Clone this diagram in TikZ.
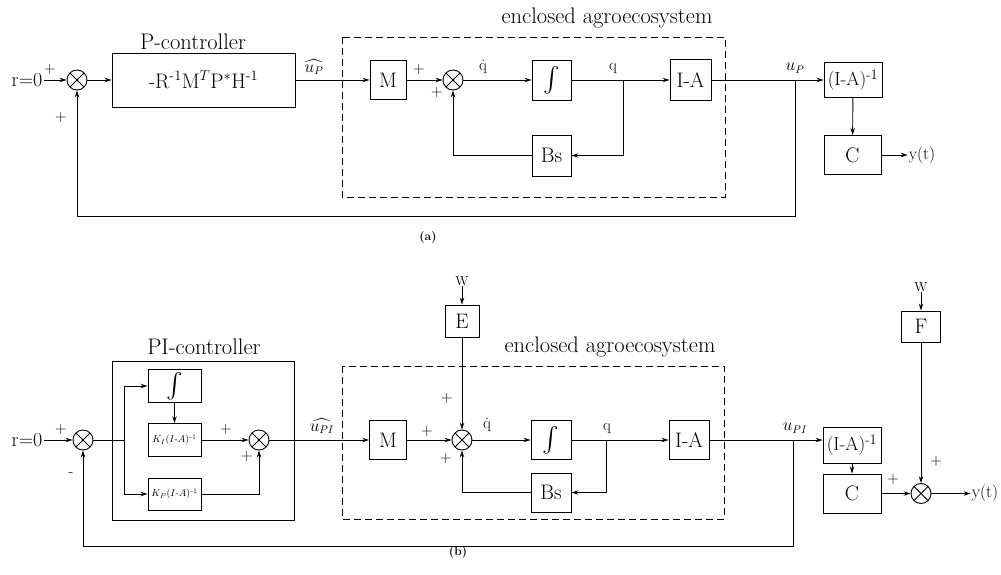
\documentclass[tikz,border=0pt]{standalone}
\usepackage{amsmath}
\usetikzlibrary{arrows.meta,calc}
\tikzset{
  blk/.style={draw,line width=0.9pt,inner sep=0pt,font=\fontsize{21}{24}\selectfont},
  smallblk/.style={blk,font=\fontsize{10}{11}\selectfont},
  invblk/.style={blk,font=\fontsize{19}{22}\selectfont},
  intblk/.style={blk,font=\fontsize{25}{28}\selectfont},
  sumnode/.style={circle,draw,line width=0.9pt,minimum size=20pt,inner sep=0pt,
    path picture={\draw[line width=0.9pt]
      (path picture bounding box.north west) -- (path picture bounding box.south east)
      (path picture bounding box.north east) -- (path picture bounding box.south west);}},
  arr/.style={-{Stealth[length=7pt,width=4.5pt]},line width=0.9pt},
  wire/.style={line width=0.9pt},
  dashbox/.style={line width=0.8pt,dash pattern=on 7pt off 4pt},
  txt/.style={inner sep=1pt,font=\fontsize{20}{22}\selectfont},
  title/.style={inner sep=1pt,font=\fontsize{22.5}{26}\selectfont},
  lab/.style={inner sep=0pt,font=\fontsize{16}{18}\selectfont},
  sgn/.style={inner sep=0pt,font=\fontsize{16}{18}\selectfont},
  outlab/.style={inner sep=1pt,font=\fontsize{17}{19}\selectfont},
  wlab/.style={inner sep=0pt,font=\fontsize{13}{14}\selectfont},
  panellab/.style={inner sep=0pt,font=\bfseries\fontsize{12}{13}\selectfont}
}

\begin{document}
\begin{tikzpicture}[x=1pt,y=-1pt]
  \useasboundingbox (0,0) rectangle (1001,575);

  % (a) P-controller
  \node[txt] (ra) at (27,80) {r=0};
  \node[sumnode] (sa) at (77,80) {};
  \node[blk,minimum width=183,minimum height=54] (pa) at (203.5,80) {-R$^{\text{-}1}$M$^{T}$P$^{*}$H$^{\text{-}1}$};
  \node[title] (pal) at (193,42) {P-controller};

  \draw[dashbox] (342,37) rectangle (725,197);
  \node[title] (ela) at (607,18) {enclosed agroecosystem};

  \node[blk,minimum width=36,minimum height=39] (ma) at (388,80) {M};
  \node[sumnode] (qa) at (453,80) {};
  \node[intblk,minimum width=39,minimum height=40] (ia) at (551.5,80) {$\int$};
  \node[blk,minimum width=39,minimum height=41] (bsa) at (551.5,155.5) {Bs};
  \node[blk,minimum width=41,minimum height=41] (aa) at (690.5,80) {I-A};
  \node[invblk,minimum width=58,minimum height=35] (inva) at (853,80) {(I-A)$^{\text{-}1}$};
  \node[blk,minimum width=57,minimum height=39] (ca) at (852.5,155) {C};
  \node[outlab] (ya) at (922,155) {y(t)};
  \coordinate (ka) at (623,80);
  \coordinate (ua) at (795,80);
  \coordinate (fa) at (795,216);

  \draw[arr] (ra) -- (sa);
  \draw[arr] (sa) -- (pa);
  \draw[arr] (pa) -- (ma);
  \draw[arr] (ma) -- (qa);
  \draw[arr] (qa) -- (ia);
  \draw[arr] (ia) -- (aa);
  \draw[arr] (ka) |- (bsa);
  \draw[arr] (bsa) -| (qa);
  \draw[arr] (aa) -- (inva);
  \draw[arr] (inva) -- (ca);
  \draw[arr] (ca) -- (ya);
  \draw[arr] (ua) -- (fa) -| (sa);

  \node[lab] (upa) at (314,67) {$\widehat{u_{P}}$};
  \node[lab] (qda) at (483,67) {\.{q}};
  \node[lab] (qqa) at (613,69) {q};
  \node[lab] (uua) at (795,68) {$u_{P}$};
  \foreach \x/\y/\s [count=\i] in {50/70/+,61/118/+,419/70/+,437/93/+}
    \node[sgn] (sga\i) at (\x,\y) {\s};
  \node[panellab] (capa) at (428,238) {(a)};

  % (b) PI-controller
  \node[txt] (rb) at (27,440) {r=0};
  \node[sumnode] (sb) at (83,440) {};
  \node[draw,line width=0.9pt,minimum width=182,minimum height=159] (pib) at (203,440.5) {};
  \node[title] (pibl) at (204,347) {PI-controller};
  \node[intblk,minimum width=53,minimum height=33] (itb) at (174.5,386) {$\int$};
  \node[smallblk,minimum width=53,minimum height=33] (kib) at (174.5,440) {$K_{I}(I\text{-}A)^{\text{-}1}$};
  \node[smallblk,minimum width=53,minimum height=32] (kpb) at (174.5,494) {$K_{P}(I\text{-}A)^{\text{-}1}$};
  \node[sumnode] (sib) at (259,440) {};
  \coordinate (jb) at (124,440);

  \draw[arr] (rb) -- (sb);
  \draw[wire] (sb) -- (jb);
  \draw[arr] (jb) |- (itb);
  \draw[arr] (jb) |- (kpb);
  \draw[arr] (itb) -- (kib);
  \draw[arr] (kib) -- (sib);
  \draw[arr] (kpb) -| (sib);

  \draw[dashbox] (342,366) rectangle (724,519);
  \node[title] (elb) at (610,347) {enclosed agroecosystem};

  \node[wlab] (wb1) at (462,281) {W};
  \node[blk,minimum width=34,minimum height=32] (eb) at (462,321) {E};
  \node[blk,minimum width=37,minimum height=39] (mb) at (388,440) {M};
  \node[sumnode] (qb) at (462,440) {};
  \node[intblk,minimum width=40,minimum height=39] (ib) at (551,440) {$\int$};
  \node[blk,minimum width=40,minimum height=39] (bsb) at (551,492.5) {Bs};
  \node[blk,minimum width=40,minimum height=39] (ab) at (689,440) {I-A};
  \node[invblk,minimum width=58,minimum height=36] (invb) at (852,445) {(I-A)$^{\text{-}1}$};
  \node[blk,minimum width=58,minimum height=39] (cb) at (852,493.5) {C};
  \node[sumnode] (yb) at (921,493.5) {};
  \node[blk,minimum width=39,minimum height=31] (fb) at (921,326.5) {F};
  \node[wlab] (wb2) at (921,287) {W};
  \node[outlab] (ytb) at (985,493.5) {y(t)};
  \coordinate (kb) at (606,440);
  \coordinate (ub) at (793,440);
  \coordinate (fbb) at (793,546);

  \draw[arr] (sib) -- (mb);
  \draw[arr] (wb1) -- (eb);
  \draw[arr] (eb) -- (qb);
  \draw[arr] (mb) -- (qb);
  \draw[arr] (qb) -- (ib);
  \draw[arr] (ib) -- (ab);
  \draw[arr] (kb) |- (bsb);
  \draw[arr] (bsb) -| (qb);
  \draw[wire] (ab) -- (ub);
  \draw[arr] (ub) -- (invb.west |- ub);
  \draw[arr] (invb) -- (cb);
  \draw[arr] (cb) -- (yb);
  \draw[arr] (wb2) -- (fb);
  \draw[arr] (fb) -- (yb);
  \draw[arr] (yb) -- (ytb);
  \draw[arr] (ub) -- (fbb) -| (sb);

  \node[lab] (upb) at (322,426) {$\widehat{u_{PI}}$};
  \node[lab] (qdb) at (487,425) {\.{q}};
  \node[lab] (qqb) at (607,429) {q};
  \node[lab] (uub) at (795,428) {$u_{PI}$};
  \foreach \x/\y/\s [count=\i] in {61/430/+,71/475/-,226/430/+,247/457/+,427/432/+,447/399/+,446/459/+,893/480/+,936/462/+}
    \node[sgn] (sgb\i) at (\x,\y) {\s};
  \node[panellab] (capb) at (458,553) {(b)};
\end{tikzpicture}
\end{document}
